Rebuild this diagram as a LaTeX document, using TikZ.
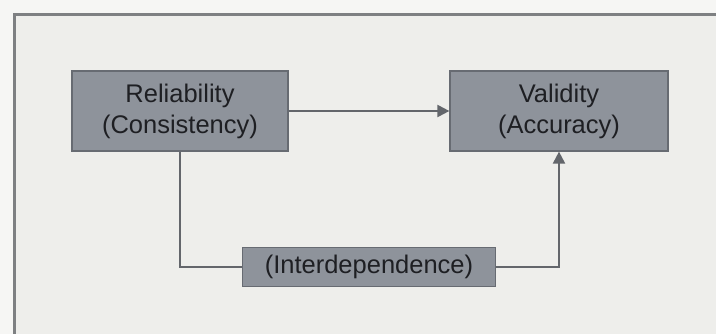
\documentclass[tikz,border=0pt]{standalone}
\usepackage{fontspec}
\setmainfont{Liberation Sans}
\usetikzlibrary{arrows.meta}
\definecolor{bgout}{HTML}{F6F6F4}
\definecolor{bgin}{HTML}{EEEEEB}
\definecolor{framec}{HTML}{7E8082}
\definecolor{boxfill}{HTML}{8E939B}
\definecolor{boxdraw}{HTML}{676B72}
\definecolor{linec}{HTML}{63666B}
\definecolor{txt}{HTML}{1E1F23}
\tikzset{
  concept/.style={draw=boxdraw, line width=1.2pt, fill=boxfill, text=txt,
    font=\fontsize{25.5}{31}\selectfont, align=center, inner sep=0pt},
  link/.style={draw=linec, line width=2pt},
  tip/.style={-{Triangle[length=12pt,width=12pt]}}
}
\begin{document}
\begin{tikzpicture}[x=1pt,y=-1pt]
\useasboundingbox (0,0) rectangle (716,334);
\fill[bgout] (0,0) rectangle (716,334);
\fill[bgin] (14,15) rectangle (716,334);
\draw[framec, line width=3pt] (14,334) -- (14,15) -- (716,15);
\node[concept, minimum width=216pt, minimum height=80pt] (rel) at (180,111) {Reliability\\(Consistency)};
\node[concept, minimum width=218pt, minimum height=80pt] (val) at (559,111) {Validity\\(Accuracy)};
\node[concept, minimum width=253pt, minimum height=39pt] (inter) at (369,267) {(Interdependence)};
\draw[link, tip] (rel.east) -- (val.west);
\draw[link] (rel.south) |- (inter.west);
\draw[link, tip] (inter.east) -| (val.south);
\end{tikzpicture}
\end{document}
